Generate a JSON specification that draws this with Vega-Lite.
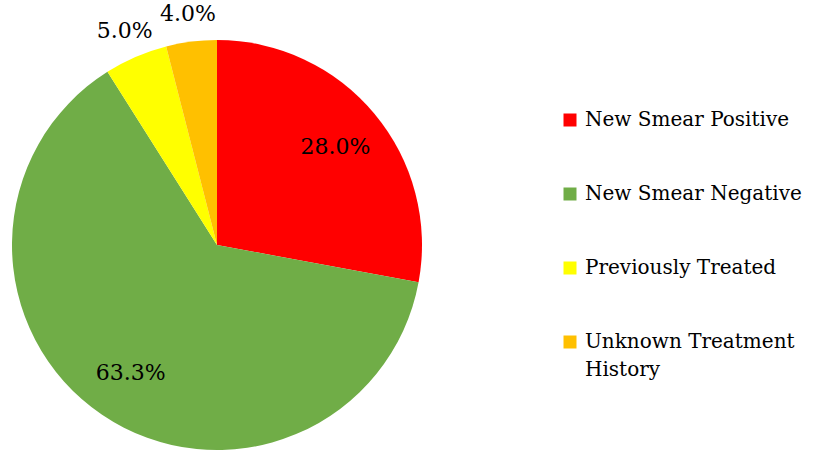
{
  "$schema": "https://vega.github.io/schema/vega-lite/v6.json",
  "width": 410,
  "height": 410,
  "autosize": {"type": "none"},
  "padding": {"left": 12, "top": 40, "right": 392, "bottom": 0},
  "background": "white",
  "config": {"view": {"stroke": null}, "font": "DejaVu Serif"},
  "data": {
    "values": [
      {"category": "New Smear Positive", "value": 0.280, "order": 1},
      {"category": "New Smear Negative", "value": 0.633, "order": 2},
      {"category": "Previously Treated", "value": 0.050, "order": 3},
      {"category": "Unknown Treatment History", "value": 0.040, "order": 4}
    ]
  },
  "encoding": {
    "theta": {"field": "value", "type": "quantitative", "stack": true},
    "order": {"field": "order", "type": "quantitative"}
  },
  "layer": [
    {
      "mark": {"type": "arc"},
      "encoding": {
        "color": {
          "field": "category",
          "type": "nominal",
          "scale": {
            "domain": ["New Smear Positive", "New Smear Negative", "Previously Treated", "Unknown Treatment History"],
            "range": ["#FF0000", "#70AD47", "#FFFF00", "#FFC000"]
          },
          "legend": {
            "title": null,
            "orient": "none",
            "legendX": 548,
            "legendY": 70,
            "padding": 0,
            "symbolType": "square",
            "symbolSize": 169,
            "symbolStrokeWidth": 0,
            "labelFont": "DejaVu Serif",
            "labelFontSize": 20,
            "labelColor": "black",
            "labelOffset": 5,
            "labelLimit": 400,
            "rowPadding": 54,
            "encode": {"labels": {"update": {"lineHeight": {"value": 28}}}},
            "labelExpr": "datum.label == 'Unknown Treatment History' ? ['Unknown Treatment', 'History'] : datum.label"
          }
        }
      }
    },
    {
      "mark": {
        "type": "text",
        "font": "DejaVu Serif",
        "fontSize": 22,
        "color": "black",
        "baseline": "middle",
        "radius": {"expr": "datum.value > 0.1 ? 154 : 233"}
      },
      "encoding": {
        "text": {"field": "value", "type": "quantitative", "format": ".1%"}
      }
    }
  ]
}
